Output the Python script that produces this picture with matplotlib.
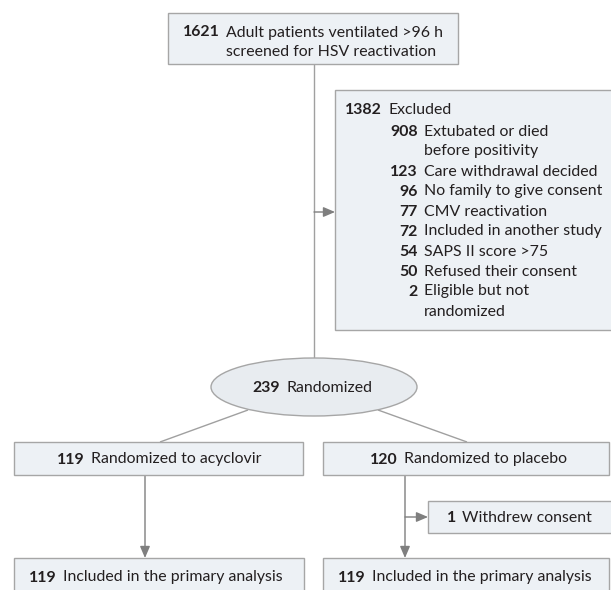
import matplotlib
matplotlib.use("Agg")
import matplotlib.pyplot as plt
from matplotlib.patches import Rectangle, Ellipse

# ---- data ----
screened_n = 1621
screened_label = ["Adult patients ventilated >96 h", "screened for HSV reactivation"]
excluded_n = 1382
excluded_label = "Excluded"
exclusion_counts = [908, 123, 96, 77, 72, 54, 50, 2]
exclusion_reasons = [
    ["Extubated or died", "before positivity"],
    ["Care withdrawal decided"],
    ["No family to give consent"],
    ["CMV reactivation"],
    ["Included in another study"],
    ["SAPS II score >75"],
    ["Refused their consent"],
    ["Eligible but not", "randomized"],
]
randomized_n = 239
randomized_label = "Randomized"
arm_counts = [119, 120]
arm_labels = ["Randomized to acyclovir", "Randomized to placebo"]
withdrew_n = 1
withdrew_label = "Withdrew consent"
analysed_counts = [119, 119]
analysed_label = "Included in the primary analysis"

# ---- style ----
plt.rcParams["font.family"] = ["Lato", "DejaVu Sans"]
FS = 11.4
BOX_FC = "#edf1f5"
BOX_EC = "#a6a6a6"
LINE = "#a0a0a0"
ARROW = "#7f7f7f"
TXT = "#231f20"
DY_TXT = 1.5

fig = plt.figure(figsize=(6.11, 5.90), dpi=100)
ax = fig.add_axes([0, 0, 1, 1])
ax.set_xlim(0, 611)
ax.set_ylim(590, 0)
ax.axis("off")


def box(x0, y0, x1, y1):
    ax.add_patch(Rectangle((x0, y0), x1 - x0, y1 - y0, fc=BOX_FC, ec=BOX_EC, lw=1.0, zorder=2))


def entry(xnum, y, n, lines, dy=19.5):
    y = y + DY_TXT
    ax.text(xnum, y, str(n), ha="right", va="center", fontsize=FS, fontweight="bold", color=TXT, zorder=3)
    for i, s in enumerate(lines):
        ax.text(xnum + 6, y + i * dy, s, ha="left", va="center", fontsize=FS, color=TXT, zorder=3)


def line(x0, y0, x1, y1):
    ax.plot([x0, x1], [y0, y1], color=LINE, lw=1.0, zorder=1, solid_capstyle="butt")


def arrow(x0, y0, x1, y1):
    ax.annotate("", xy=(x1, y1), xytext=(x0, y0),
                arrowprops=dict(arrowstyle="-|>,head_length=0.7,head_width=0.3", color=LINE,
                                lw=1.0, shrinkA=0, shrinkB=0, fc=ARROW, ec=ARROW), zorder=1)


# connectors
line(314, 64, 314, 358)
arrow(314, 212, 335, 212)
line(248, 410, 160, 442)
line(378, 410, 467, 442)
arrow(145, 475, 145, 558)
arrow(405, 475, 405, 558)
arrow(405, 517, 428, 517)

# top box
box(168, 13, 458, 64)
entry(220, 31, screened_n, screened_label)

# excluded box
box(335, 90, 625, 330)
entry(382, 108, excluded_n, [excluded_label])
y = 130
for n, reason in zip(exclusion_counts, exclusion_reasons):
    entry(418, y, n, reason, dy=20)
    y += 20 * len(reason)

# randomized ellipse
ax.add_patch(Ellipse((314, 387), 206, 58, fc="#e8ecf0", ec=BOX_EC, lw=1.0, zorder=2))
entry(280, 386, randomized_n, [randomized_label])

# arms
box(14, 442, 303, 475)
entry(85, 458, arm_counts[0], [arm_labels[0]])
box(323, 442, 609, 475)
entry(398, 458, arm_counts[1], [arm_labels[1]])

# withdrew
box(428, 501, 625, 533)
entry(456, 516, withdrew_n, [withdrew_label])

# analysed
box(14, 558, 304, 600)
entry(57, 576, analysed_counts[0], [analysed_label])
box(323, 558, 609, 600)
entry(366, 576, analysed_counts[1], [analysed_label])

fig.savefig("out.png", dpi=100, facecolor="white")
